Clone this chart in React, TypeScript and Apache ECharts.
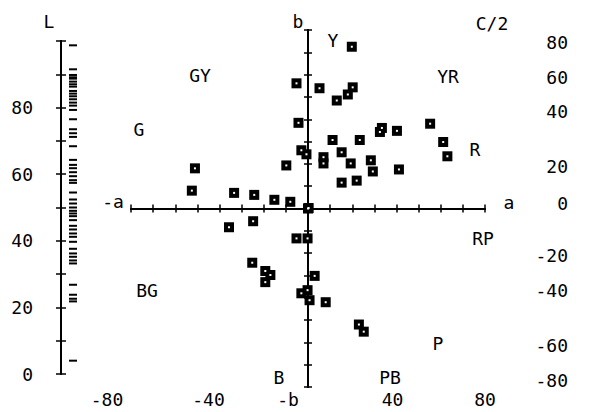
import React, { useEffect, useRef } from 'react';
import * as echarts from 'echarts';

// CIELAB a*, b* of each sample
const aValues = [19.8, -5.2, 5.2, 13.0, 18.0, 20.2, -4.3, 32.5, 33.4, 40.2, 55.2, 11.1, 23.4, 15.2, 7.0, 7.0, 19.3, 28.4, 29.3, 41.1, 15.2, 22.0, 61.1, 63.0, -3.0, -0.7, -9.8, -51.1, -52.5, -33.4, -24.3, -15.2, -8.0, 0.0, -24.8, -35.7, -5.2, -0.2, -25.2, -19.3, -17.0, -19.3, 3.0, -3.0, -0.2, 0.7, 8.0, 23.0, 25.2, 0.3];
const bValues = [72.5, 56.1, 53.9, 48.4, 51.1, 54.3, 38.4, 34.3, 36.1, 34.8, 38.0, 30.7, 30.7, 25.2, 23.0, 20.2, 20.2, 21.6, 16.6, 17.5, 11.6, 12.5, 29.8, 23.4, 26.1, 24.3, 19.3, 18.0, 8.0, 7.0, 6.1, 3.9, 3.0, 0.0, -5.7, -8.4, -13.4, -13.4, -24.3, -28.0, -29.8, -33.0, -30.2, -38.0, -36.6, -41.1, -42.0, -52.0, -55.2, 0.2];
// lightness L* of each sample (rug on the L axis)
const lValues = [89.8, 91.5, 88.7, 85.0, 87.0, 89.1, 87.8, 72.3, 73.5, 68.4, 62.8, 83.4, 79.3, 76.5, 84.2, 80.6, 71.2, 64.3, 60.6, 54.5, 59.4, 52.4, 51.2, 48.2, 86.3, 82.5, 81.5, 61.8, 57.4, 58.2, 50.0, 46.2, 44.5, 98.7, 49.0, 47.4, 43.4, 42.2, 41.2, 39.7, 37.6, 36.2, 35.2, 34.1, 33.2, 26.8, 23.8, 22.6, 21.8, 4.0];

const aTickLabels = [-80, -40, 40, 80];
const cTickLabels = [80, 60, 40, 20, 0, -20, -40, -60, -80];
const lTickLabels = [0, 20, 40, 60, 80];
const hueNames = ['Y', 'GY', 'YR', 'G', 'R', 'RP', 'BG', 'P', 'PB', 'B'];
const axisNames = ['L', 'b', '-b', 'a', '-a', 'C/2'];

// layout (pixels / axis units), kept apart from the data
const cTickAt = [74.3, 58.6, 43.3, 18.6, 2.2, -21.1, -36.9, -61.6, -77.3];
const aLabelShift = [48, 22, 8, 0];
const hueAt = [[333, 40], [200, 75], [448, 76], [139, 129], [475, 149], [483, 238], [147, 290], [438, 343], [390, 377], [279, 377]];
const axisNameAt = [[49, 21], [298, 21], [288, 399], [509, 202], [113, 201], [492, 23]];

const FONT = 'DejaVu Sans Mono';
const FS = 18;
const BLACK = '#000';

export default function App() {
  const ref = useRef<HTMLDivElement>(null);
  useEffect(() => {
    if (!ref.current) return;
    const chart = echarts.init(ref.current, null, { renderer: 'svg' });
    const line = { color: BLACK, width: 2 };
    const tickStyle = { color: BLACK, width: 1.5 };
    const mainAxis = (inside: boolean, pos: string) => ({
      gridIndex: 0, type: 'value', min: -80, max: 80, interval: 10, position: pos,
      axisLine: { show: true, onZero: true, lineStyle: line },
      axisTick: { show: true, inside, length: 4, lineStyle: tickStyle },
      axisLabel: { show: false }, splitLine: { show: false },
    });
    const lTickOk = (v: number) => lTickLabels.indexOf(Math.round(v)) >= 0;
    const lAxis = (inside: boolean) => ({
      gridIndex: 1, type: 'value', min: 0, max: 100, interval: 10, position: 'left',
      axisLine: { show: true, onZero: false, lineStyle: line },
      axisTick: { show: true, inside, length: 5, lineStyle: tickStyle },
      axisLabel: inside ? { show: false } : {
        show: true, margin: 28, color: BLACK, fontFamily: FONT, fontSize: FS,
        formatter: (v: number) => (lTickOk(v) ? String(v) : ''),
      },
      splitLine: { show: false },
    });
    const rich: any = {};
    aLabelShift.forEach((s, i) => {
      rich['n' + i] = { fontFamily: FONT, fontSize: FS, color: BLACK, padding: [0, s, 0, 0] };
    });
    const option: any = {
      animation: false,
      grid: [
        { left: 131, top: 30, width: 354, height: 357 },
        { left: 61, top: 41, width: 24, height: 333 },
      ],
      xAxis: [
        mainAxis(false, 'bottom'),
        mainAxis(true, 'bottom'),
        {
          gridIndex: 0, type: 'value', min: -80, max: 80, position: 'bottom',
          axisLine: { show: false, onZero: false }, axisTick: { show: false }, splitLine: { show: false },
          axisLabel: {
            show: true, customValues: aTickLabels, margin: 3,
            formatter: (v: number) => {
              const i = aTickLabels.indexOf(Math.round(v));
              return i >= 0 ? `{n${i}|${aTickLabels[i]}}` : '';
            },
            rich,
          },
        },
        { gridIndex: 1, type: 'value', min: 0, max: 1, show: false },
      ],
      yAxis: [
        mainAxis(false, 'left'),
        mainAxis(true, 'left'),
        {
          gridIndex: 0, type: 'value', min: -80, max: 80, position: 'right',
          axisLine: { show: false, onZero: false }, axisTick: { show: false }, splitLine: { show: false },
          axisLabel: {
            show: true, customValues: cTickAt, margin: 83, align: 'right',
            color: BLACK, fontFamily: FONT, fontSize: FS,
            formatter: (v: number) => {
              let best = 0;
              cTickAt.forEach((p, i) => { if (Math.abs(p - v) < Math.abs(cTickAt[best] - v)) best = i; });
              return String(cTickLabels[best]);
            },
          },
        },
        lAxis(false),
        lAxis(true),
      ],
      series: [
        {
          type: 'scatter', xAxisIndex: 0, yAxisIndex: 0, silent: true,
          data: aValues.map((a, i) => [a, bValues[i]]),
          symbol: 'rect', symbolSize: 10, itemStyle: { color: BLACK, opacity: 1 }, z: 3,
        },
        {
          type: 'scatter', xAxisIndex: 0, yAxisIndex: 0, silent: true,
          data: aValues.map((a, i) => [a, bValues[i]]),
          symbol: 'rect', symbolSize: 2, itemStyle: { color: '#fff', opacity: 1 }, z: 4,
        },
        {
          type: 'scatter', xAxisIndex: 3, yAxisIndex: 3, silent: true,
          data: lValues.map((l) => [0.5, l]),
          symbol: 'rect', symbolSize: [8, 2], itemStyle: { color: BLACK, opacity: 1 }, z: 3,
        },
      ],
      graphic: [
        ...hueNames.map((t, i) => ({
          type: 'text', x: hueAt[i][0], y: hueAt[i][1], silent: true,
          style: { text: t, fill: BLACK, fontFamily: FONT, fontSize: FS, align: 'center', verticalAlign: 'middle' },
        })),
        ...axisNames.map((t, i) => ({
          type: 'text', x: axisNameAt[i][0], y: axisNameAt[i][1], silent: true,
          style: { text: t, fill: BLACK, fontFamily: FONT, fontSize: FS, align: 'center', verticalAlign: 'middle' },
        })),
      ],
    };
    chart.setOption(option);
    return () => chart.dispose();
  }, []);
  return <div ref={ref} style={{ position: 'fixed', left: 0, top: 0, width: 599, height: 412, background: '#fff' }} />;
}
